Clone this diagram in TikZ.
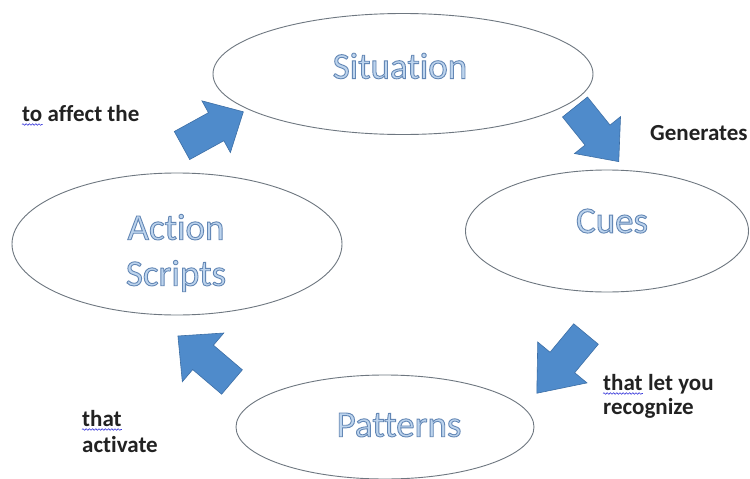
\documentclass[tikz,border=0pt]{standalone}
\usepackage{fontspec}
\setmainfont{Carlito}[Ligatures={NoCommon,NoRequired,NoContextual}]
\usetikzlibrary{shapes.geometric, decorations.pathmorphing}

\definecolor{ringline}{HTML}{6E7780}
\definecolor{arrowfill}{HTML}{4F8BCB}
\definecolor{arrowedge}{HTML}{3C6EA5}
\definecolor{labeltext}{HTML}{222222}
\definecolor{spellwave}{HTML}{3A3ADB}

% outlined title text: pale blue fill, stroked with a darker blue rim
\newcommand{\ringtitle}[1]{\leavevmode
  \special{pdf:bcolor [0.74 0.83 0.93] [0.39 0.53 0.71]}%
  \special{pdf:literal direct 2 Tr 0.9 w}#1\special{pdf:literal direct 0 Tr}%
  \special{pdf:ecolor}}

\tikzset{
  ring/.style={draw=ringline, line width=0.9pt, fill=white, ellipse, inner sep=0pt},
  title/.style={font=\fontsize{37}{46}\selectfont, align=center, inner sep=0pt},
  lab/.style={font=\fontsize{23}{27}\selectfont\bfseries, text=labeltext, inner sep=0pt},
  wave/.style={draw=spellwave, line width=0.6pt, decorate,
    decoration={snake, amplitude=0.8pt, segment length=3.2pt}},
  arrowbody/.style={fill=arrowfill, draw=arrowedge, line width=0.6pt, line join=miter},
  % block arrow: length, head length, head half-width (shaft half-width 16)
  pics/blockarrow/.style n args={3}{
    code={\path[arrowbody] (0,-16) -- ({#1-#2},-16) -- ({#1-#2},-#3) -- (#1,0)
      -- ({#1-#2},#3) -- ({#1-#2},16) -- (0,16) -- cycle;}
  }
}

\begin{document}
\begin{tikzpicture}[x=1pt, y=-1pt]
  \path[fill=white, use as bounding box] (0,0) rectangle (750,479);

  % the four stages
  \node[ring, minimum width=380pt, minimum height=121pt] (sit) at (403,74) {};
  \node[ring, minimum width=283pt, minimum height=122pt] (cues) at (607,231) {};
  \node[ring, minimum width=330pt, minimum height=142pt] (act) at (177,244) {};
  \node[ring, minimum width=298pt, minimum height=104pt] (pat) at (385,427) {};

  \node[title] (sittext) at (400,66) {\ringtitle{Situation}};
  \node[title] (cuestext) at (612,221) {\ringtitle{Cues}};
  \node[title] (acttext) at (176,253) {\ringtitle{Action}\\\ringtitle{Scripts}};
  \node[title] (pattext) at (399,425) {\ringtitle{Patterns}};

  % block arrows running round the cycle
  \pic[rotate=-51.3] at (575,107) {blockarrow={70}{34}{29.5}};
  \pic[rotate=-129.7] at (586,334) {blockarrow={77}{40}{32}};
  \pic[rotate=139.6] at (232,382) {blockarrow={71}{33}{32}};
  \pic[rotate=28.8] at (182,145.5) {blockarrow={70}{31}{29.5}};

  % link phrases
  \node[lab, anchor=base west] (affectto) at (22,121) {to};
  \node[lab, anchor=base west] (affect) at ([xshift=5pt]affectto.base east) {affect the};
  \draw[wave] ([yshift=-3.5pt]affectto.base west) -- ([yshift=-3.5pt]affectto.base east);

  \node[lab, anchor=base west] (gen) at (650,140) {Generates};

  \node[lab, anchor=base west] (letthat) at (603,390) {that};
  \node[lab, anchor=base west] (letyou) at ([xshift=5pt]letthat.base east) {let you};
  \node[lab, anchor=base west] (recog) at (603,414) {recognize};
  \draw[wave] ([yshift=-3.5pt]letthat.base west) -- ([yshift=-3.5pt]letthat.base east);

  \node[lab, anchor=base west] (actthat) at (82,426) {that};
  \node[lab, anchor=base west] (activ) at (82,452) {activate};
  \draw[wave] ([yshift=-3.5pt]actthat.base west) -- ([yshift=-3.5pt]actthat.base east);
\end{tikzpicture}
\end{document}
